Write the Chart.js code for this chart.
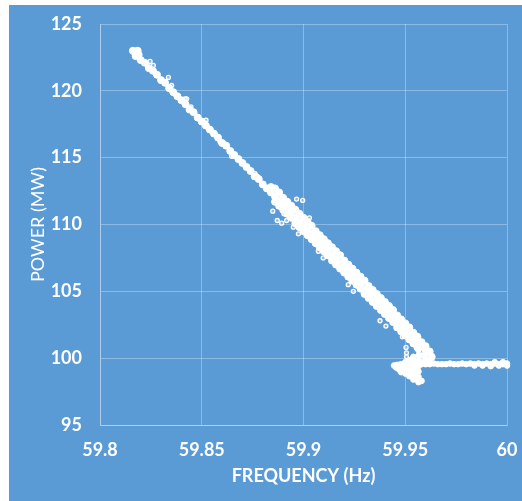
<!DOCTYPE html>
<html>
<head>
<meta charset="utf-8">
<script src="https://cdn.jsdelivr.net/npm/chart.js@4/dist/chart.umd.min.js"></script>
<style>
  html, body { margin: 0; padding: 0; background: #fff; }
  #wrap { position: absolute; left: 9px; top: 5px; width: 513px; height: 496px; background: #5B9BD5; }
</style>
</head>
<body>
<div id="wrap"><canvas id="droopChart"></canvas></div>
<script>
// Axis ticks
const xTickValues = [59.8, 59.85, 59.9, 59.95, 60];
const xTickLabels = ['59.8', '59.85', '59.9', '59.95', '60'];
const yTickValues = [95, 100, 105, 110, 115, 120, 125];
const yTickLabels = ['95', '100', '105', '110', '115', '120', '125'];

// Main droop band [frequency Hz, power MW] - centre of the band
const bandMain = [
  [59.8162, 123.0], [59.817, 122.9], [59.8185, 123.0], [59.8175, 122.6], [59.819, 122.7],
  [59.820, 122.3], [59.822, 122.1], [59.824, 121.7], [59.826, 121.5], [59.828, 121.2],
  [59.830, 120.8], [59.832, 120.6], [59.834, 120.2], [59.836, 119.9], [59.838, 119.6],
  [59.840, 119.3], [59.842, 119.0], [59.844, 118.6], [59.846, 118.4], [59.848, 118.0],
  [59.850, 117.7], [59.852, 117.4], [59.854, 117.1], [59.856, 116.8], [59.858, 116.5],
  [59.860, 116.1], [59.862, 115.9], [59.864, 115.5], [59.866, 115.2], [59.868, 114.9],
  [59.870, 114.6], [59.872, 114.3], [59.874, 114.0], [59.876, 113.6], [59.878, 113.4],
  [59.880, 113.0], [59.882, 112.7], [59.884, 112.4], [59.886, 112.1], [59.888, 111.8],
  [59.890, 111.5], [59.892, 111.2], [59.894, 110.9], [59.896, 110.5], [59.898, 110.2],
  [59.900, 109.9], [59.902, 109.6], [59.904, 109.3], [59.906, 109.0], [59.908, 108.7],
  [59.910, 108.4], [59.912, 108.1], [59.914, 107.7], [59.916, 107.4], [59.918, 107.1],
  [59.920, 106.8], [59.922, 106.5], [59.924, 106.2], [59.926, 105.9], [59.928, 105.6],
  [59.930, 105.2], [59.932, 104.9], [59.934, 104.6], [59.936, 104.3], [59.938, 104.0],
  [59.940, 103.7], [59.942, 103.4], [59.944, 103.1], [59.946, 102.7], [59.948, 102.4],
  [59.950, 102.1], [59.952, 101.8], [59.954, 101.5], [59.956, 101.2], [59.958, 100.9],
  [59.960, 100.6]
];

// upper edge of the band (thicker part)
const bandUpper = [
  [59.884, 112.8], [59.886, 112.7], [59.888, 112.4], [59.890, 112.0], [59.892, 111.7],
  [59.894, 111.4], [59.896, 111.1], [59.898, 110.8], [59.900, 110.5], [59.902, 110.2],
  [59.904, 109.9], [59.906, 109.5], [59.908, 109.2], [59.910, 108.9], [59.912, 108.6],
  [59.914, 108.3], [59.916, 108.0], [59.918, 107.7], [59.920, 107.3], [59.922, 107.0],
  [59.924, 106.7], [59.926, 106.4], [59.928, 106.1], [59.930, 105.8], [59.932, 105.4],
  [59.934, 105.1], [59.936, 104.8], [59.938, 104.5], [59.940, 104.2], [59.942, 103.9],
  [59.944, 103.6], [59.946, 103.2], [59.948, 102.9], [59.950, 102.6], [59.952, 102.3],
  [59.954, 101.9], [59.956, 101.6], [59.958, 101.2], [59.960, 100.9], [59.962, 100.5],
  [59.963, 100.1]
];

// lower edge of the band
const bandLower = [
  [59.886, 111.7], [59.888, 111.4], [59.890, 111.1], [59.892, 110.8], [59.894, 110.5],
  [59.896, 110.1], [59.898, 109.8], [59.900, 109.5], [59.902, 109.2], [59.904, 108.9],
  [59.906, 108.6], [59.908, 108.3], [59.910, 108.0], [59.912, 107.7], [59.914, 107.3],
  [59.916, 107.0], [59.918, 106.7], [59.920, 106.4], [59.922, 106.1], [59.924, 105.8],
  [59.926, 105.5], [59.928, 105.2], [59.930, 104.8], [59.932, 104.5], [59.934, 104.2],
  [59.936, 103.9], [59.938, 103.6], [59.940, 103.3], [59.942, 103.0], [59.944, 102.7],
  [59.946, 102.3], [59.948, 102.0], [59.950, 101.7], [59.952, 101.4], [59.954, 101.1],
  [59.956, 100.8]
];

// flat part near 60 Hz and the cluster under it
const flatLine = [
  [59.946, 99.5], [59.948, 99.55], [59.950, 99.55], [59.952, 99.55], [59.954, 99.5],
  [59.956, 99.55], [59.958, 99.55], [59.960, 99.55], [59.962, 99.55], [59.964, 99.6],
  [59.966, 99.55], [59.968, 99.55], [59.970, 99.55], [59.972, 99.6], [59.974, 99.55],
  [59.976, 99.55], [59.978, 99.6], [59.980, 99.55], [59.982, 99.6], [59.984, 99.55],
  [59.986, 99.6], [59.988, 99.55], [59.990, 99.6], [59.992, 99.55], [59.994, 99.6],
  [59.996, 99.55], [59.998, 99.55], [60.000, 99.6],
  [59.984, 99.45], [59.988, 99.45], [59.992, 99.4], [59.996, 99.45], [60.000, 99.45],
  [59.994, 99.7], [59.998, 99.7]
];
const lowCluster = [
  [59.9445, 99.45], [59.9455, 99.3], [59.947, 99.15], [59.947, 99.5], [59.948, 98.95],
  [59.949, 99.1], [59.949, 99.4], [59.950, 98.85], [59.950, 99.7], [59.951, 99.0],
  [59.951, 99.3], [59.952, 98.65], [59.952, 99.85], [59.953, 98.8], [59.953, 99.1],
  [59.953, 99.4], [59.954, 98.4], [59.954, 99.8], [59.954, 100.1], [59.955, 98.5],
  [59.955, 98.9], [59.955, 99.2], [59.9565, 98.2], [59.9565, 98.6], [59.9565, 99.0],
  [59.9565, 99.4], [59.9565, 99.8], [59.9565, 100.2], [59.9565, 100.6], [59.958, 98.3],
  [59.958, 99.7], [59.958, 100.2], [59.960, 99.9], [59.960, 100.3], [59.962, 99.9]
];

// stray readings off the band
const strays = [
  [59.8246, 122.2], [59.8262, 121.9], [59.8336, 121.0], [59.8352, 120.4], [59.8418, 119.4],
  [59.8426, 119.4], [59.8447, 118.8], [59.8521, 117.8], [59.8516, 117.6], [59.859, 116.2],
  [59.8647, 115.1], [59.8762, 113.8], [59.8773, 113.6],
  [59.8849, 111.0], [59.8871, 110.3], [59.8893, 110.1], [59.8904, 110.8], [59.8917, 110.3],
  [59.895, 109.8], [59.8966, 111.9], [59.8975, 109.3], [59.8996, 111.8], [59.9029, 110.5],
  [59.9073, 108.0], [59.9097, 107.5], [59.922, 105.5], [59.9245, 105.0], [59.9376, 102.8],
  [59.9405, 102.4], [59.9486, 101.6], [59.9504, 100.8], [59.9506, 100.4], [59.9506, 100.1]
];

const toXY = (arr) => arr.map(p => ({ x: p[0], y: p[1] }));

const gridColor = 'rgba(255,255,255,0.3)';
const white = '#ffffff';

var ctx = document.getElementById('droopChart').getContext('2d');

var droopChart = new Chart(ctx, {
  type: 'scatter',
  data: {
    datasets: [
      {
        data: toXY(bandMain.concat(bandUpper, bandLower)),
        backgroundColor: white, borderColor: white,
        pointRadius: 3.5, borderWidth: 1, clip: false
      },
      {
        data: toXY(flatLine.concat(lowCluster)),
        backgroundColor: white, borderColor: white,
        pointRadius: 2.8, borderWidth: 1, clip: false
      },
      {
        data: toXY(strays),
        backgroundColor: 'rgba(255,255,255,0.3)', borderColor: white,
        pointRadius: 2, borderWidth: 1.3, clip: false
      }
    ]
  },
  options: {
    responsive: true,
    maintainAspectRatio: false,
    animation: false,
    events: [],
    layout: { padding: { top: 19, right: 15, left: 0, bottom: 0 } },
    plugins: { legend: { display: false }, tooltip: { enabled: false } },
    scales: {
      x: {
        type: 'linear',
        min: 59.8,
        max: 60,
        afterBuildTicks: (scale) => { scale.ticks = xTickValues.map(v => ({ value: v })); },
        afterFit: (scale) => { scale.height = 76; },
        ticks: {
          color: white,
          padding: 0,
          maxRotation: 0,
          font: { family: 'Lato', size: 18, weight: 'bold' },
          callback: (v, i) => xTickLabels[i]
        },
        // invisible tick marks used as the gap between axis and labels
        grid: { color: gridColor, drawTicks: true, tickLength: 14, tickColor: 'rgba(0,0,0,0)' },
        border: { color: gridColor },
        title: {
          display: true,
          text: 'FREQUENCY (Hz)',
          color: white,
          font: { family: 'Lato', size: 18, weight: 'bold' },
          padding: { top: 0, bottom: 14 }
        }
      },
      y: {
        min: 95,
        max: 125,
        afterBuildTicks: (scale) => { scale.ticks = yTickValues.map(v => ({ value: v })); },
        afterFit: (scale) => { scale.width = 91; },
        ticks: {
          color: white,
          padding: 0,
          font: { family: 'Lato', size: 18, weight: 'bold' },
          callback: (v, i) => yTickLabels[i]
        },
        grid: { color: gridColor, drawTicks: true, tickLength: 18, tickColor: 'rgba(0,0,0,0)' },
        border: { color: gridColor },
        title: {
          display: true,
          text: 'POWER (MW)',
          color: white,
          font: { family: 'Lato', size: 18 },
          padding: { top: 18, bottom: 0 }
        }
      }
    }
  }
});
</script>
</body>
</html>
